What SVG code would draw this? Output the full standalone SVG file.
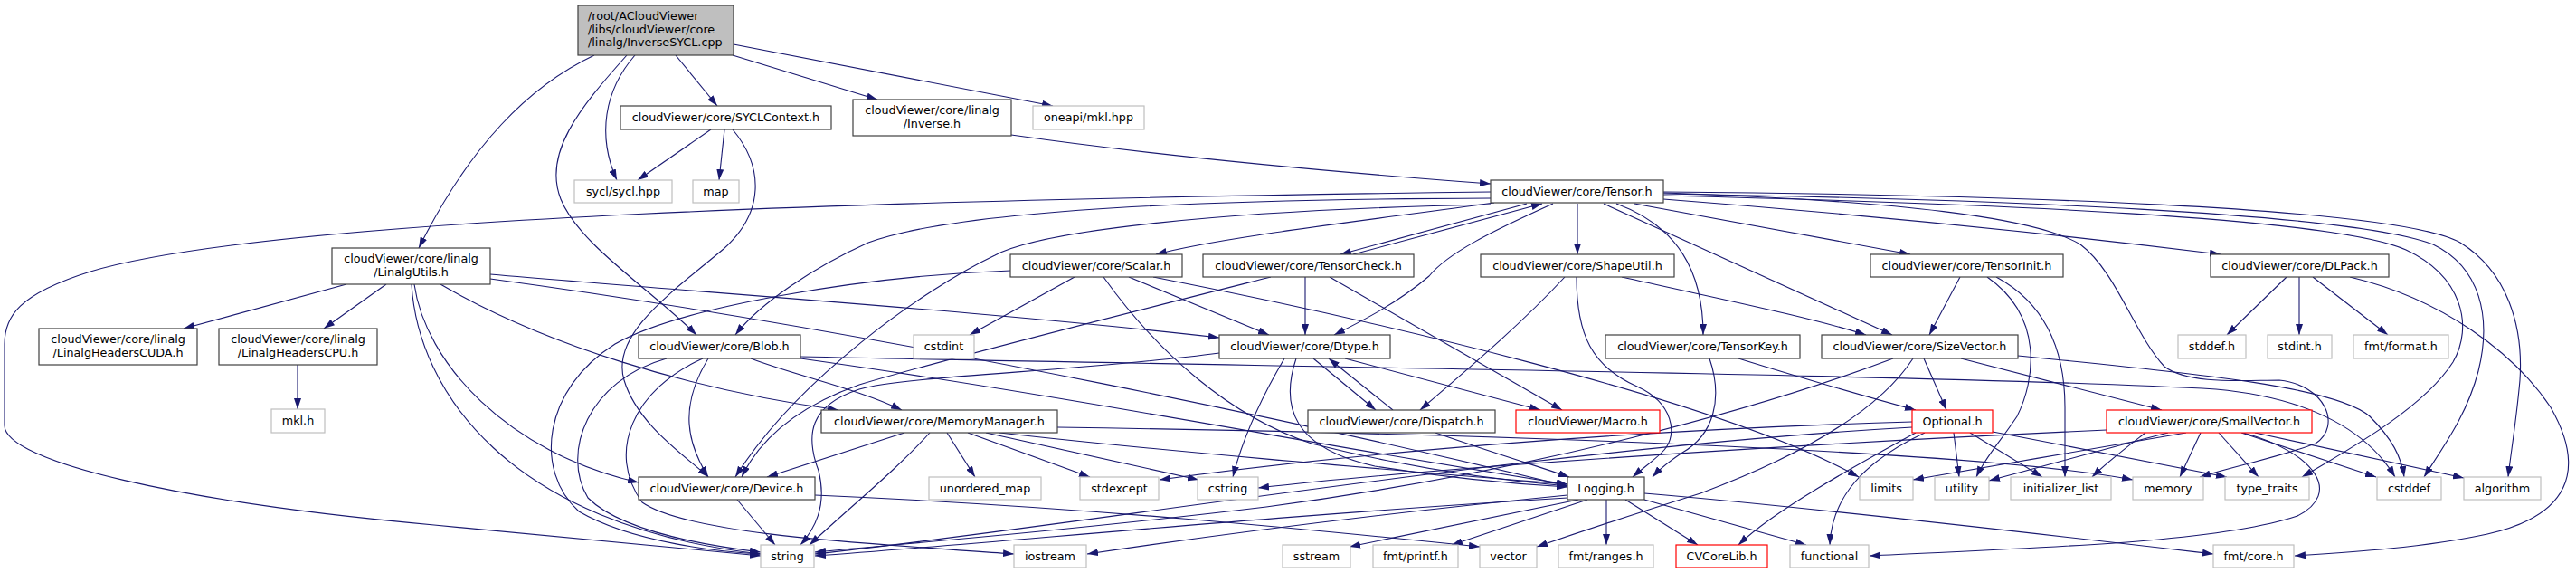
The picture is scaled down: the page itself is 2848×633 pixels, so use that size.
<svg xmlns="http://www.w3.org/2000/svg" width="2848" height="633" viewBox="0 0 2848 633">
<style>
rect{fill:#fff;stroke-width:1.2}
.n rect{stroke:#404040}
.g rect{stroke:#bfbfbf}
.r rect{stroke:#ff0000}
.root rect{fill:#bfbfbf;stroke:#404040}
text{font-family:"DejaVu Sans","Liberation Sans",sans-serif;font-size:12.75px;fill:#000;text-anchor:middle}
.root text{text-anchor:start}
#edges path{fill:none;stroke:#191970;stroke-width:1.1;marker-end:url(#a)}
</style>
<defs>
<marker id="a" markerWidth="12" markerHeight="8" refX="12" refY="4" orient="auto" markerUnits="userSpaceOnUse"><path d="M0,0 L12,4 L0,8 z" fill="#191970"/></marker>
</defs>
<rect x="0" y="0" width="2848" height="633" style="fill:#fff;stroke:none"/>
<g id="edges">
<path d="M657,61 C585,95 520,160 463,274"/>
<path d="M693,61 C640,120 600,170 620,220 C640,270 720,320 770,370"/>
<path d="M702,61 C668,100 660,150 682,199"/>
<path d="M747,61 L793,117"/>
<path d="M810,61 L970,110"/>
<path d="M811,49 L1164,117"/>
<path d="M786,143 L705,199"/>
<path d="M801,143 L795,199"/>
<path d="M810,143 C845,185 845,235 800,275 C740,325 675,370 690,420 C705,470 760,505 783,527"/>
<path d="M1118,149 C1300,175 1500,192 1648,203"/>
<path d="M383,314 L203,363"/>
<path d="M427,314 L358,363"/>
<path d="M329,403 L329,452"/>
<path d="M458,314 C470,400 560,500 706,533"/>
<path d="M455,314 C462,430 560,580 841,612"/>
<path d="M487,314 C600,380 760,430 927,453"/>
<path d="M542,303 C800,325 1100,345 1348,373"/>
<path d="M542,308 C1000,370 1500,480 1733,537"/>
<path d="M1648,212 C1000,220 300,240 100,300 C20,325 5,350 5,380 L5,470 C5,510 200,555 480,580 C650,597 780,608 841,614"/>
<path d="M1648,219 C1300,220 1050,235 960,268 C900,295 840,335 813,370"/>
<path d="M1648,226 C1350,232 1150,255 1100,282 C1020,320 880,420 813,527"/>
<path d="M1652,224 C1500,245 1350,262 1278,281"/>
<path d="M1688,225 L1482,281"/>
<path d="M1496,281 L1705,225"/>
<path d="M1717,225 C1650,255 1600,280 1580,305 C1545,335 1505,355 1475,370"/>
<path d="M1744,225 L1744,281"/>
<path d="M1773,225 L2092,370"/>
<path d="M1787,225 C1855,250 1883,300 1883,370"/>
<path d="M1807,225 L2112,281"/>
<path d="M1839,220 C2100,240 2300,262 2455,281"/>
<path d="M1839,213 C2100,222 2250,240 2300,270 C2340,300 2360,370 2393,405 C2420,425 2480,420 2520,420 C2570,425 2590,470 2560,490 C2520,505 2470,515 2432,527"/>
<path d="M1839,212 C2200,215 2650,228 2720,268 C2772,300 2790,360 2786,420 C2782,465 2776,500 2773,527"/>
<path d="M1839,214 C2200,220 2600,235 2690,270 C2742,295 2755,350 2740,410 C2727,460 2700,495 2680,527"/>
<path d="M1839,216 C2200,225 2580,240 2660,276 C2722,305 2735,360 2712,400 C2680,450 2600,495 2545,527"/>
<path d="M2528,306 L2462,370"/>
<path d="M2542,306 L2542,370"/>
<path d="M2557,306 L2640,370"/>
<path d="M2598,306 C2700,330 2780,390 2820,450 C2860,520 2840,570 2750,590 C2680,605 2600,610 2537,614"/>
<path d="M1188,306 L1072,370"/>
<path d="M1248,306 L1403,370"/>
<path d="M1220,306 C1280,390 1360,460 1450,490 C1550,515 1650,530 1733,537"/>
<path d="M1275,306 C1500,350 1900,440 2055,527"/>
<path d="M1117,299 C950,305 750,340 680,380 C600,430 590,520 640,565 C700,600 800,610 841,612"/>
<path d="M1443,306 L1443,370"/>
<path d="M1470,306 L1727,453"/>
<path d="M1405,306 C1250,345 1050,395 950,425 C880,450 840,485 820,527"/>
<path d="M1793,306 C1900,330 2000,350 2063,370"/>
<path d="M1730,306 C1680,360 1620,410 1570,453"/>
<path d="M1743,306 C1743,370 1760,405 1810,427 C1850,445 1855,480 1840,497 C1830,508 1815,518 1805,527"/>
<path d="M1890,396 C1905,440 1895,480 1860,500 C1845,510 1835,518 1827,527"/>
<path d="M1922,396 C2000,420 2070,440 2118,453"/>
<path d="M2127,396 L2152,453"/>
<path d="M2168,396 L2390,453"/>
<path d="M2231,393 C2400,410 2580,425 2620,460 C2645,485 2655,505 2658,527"/>
<path d="M2093,396 C1950,450 1700,520 1400,560 C1150,590 1000,600 901,610"/>
<path d="M2115,396 C2080,450 2000,500 1880,545 C1800,570 1740,590 1699,604"/>
<path d="M2167,306 L2133,370"/>
<path d="M2197,306 C2260,350 2250,420 2230,460 C2210,490 2195,505 2185,527"/>
<path d="M2207,306 C2270,340 2283,400 2283,450 L2283,527"/>
<path d="M2160,478 L2166,527"/>
<path d="M2178,478 L2258,527"/>
<path d="M2128,478 C2060,510 2025,550 2023,602"/>
<path d="M2118,478 C2050,515 1960,565 1922,602"/>
<path d="M2203,477 C2300,495 2400,515 2462,527"/>
<path d="M2114,466 C1800,475 1500,500 1282,530"/>
<path d="M2114,472 C1700,495 1200,580 901,612"/>
<path d="M1452,396 L1521,453"/>
<path d="M1540,453 L1469,396"/>
<path d="M1487,396 L1703,453"/>
<path d="M1420,396 C1400,430 1375,480 1363,527"/>
<path d="M1433,396 C1415,450 1430,495 1520,515 C1600,528 1680,535 1733,538"/>
<path d="M1348,390 C1200,410 1000,415 950,430 C895,448 890,480 905,520 C915,560 900,585 885,602"/>
<path d="M1587,478 C1650,500 1700,515 1735,527"/>
<path d="M1047,478 L1078,527"/>
<path d="M1070,478 L1205,527"/>
<path d="M1090,478 L1325,530"/>
<path d="M1000,478 L848,527"/>
<path d="M1028,478 C990,520 940,560 895,602"/>
<path d="M1169,472 C1700,480 2200,500 2358,530"/>
<path d="M1105,478 C1300,500 1550,520 1733,535"/>
<path d="M885,396 C1200,440 1500,500 1733,535"/>
<path d="M885,394 C1400,405 2200,415 2450,430 C2560,440 2620,480 2648,527"/>
<path d="M830,396 C880,415 950,430 997,453"/>
<path d="M783,396 C750,450 760,490 783,527"/>
<path d="M737,396 C650,420 620,500 650,550 C690,590 800,605 841,610"/>
<path d="M777,396 C700,430 670,500 710,555 C760,590 950,600 1121,612"/>
<path d="M815,552 L857,602"/>
<path d="M901,547 C1200,560 1450,585 1636,604"/>
<path d="M1745,552 L1492,604"/>
<path d="M1755,552 L1605,602"/>
<path d="M1776,552 L1776,602"/>
<path d="M1797,552 L1877,602"/>
<path d="M1818,552 L1997,602"/>
<path d="M1818,545 C2000,560 2300,595 2447,612"/>
<path d="M1733,550 C1400,570 1100,600 901,614"/>
<path d="M1733,547 C1550,565 1350,590 1202,612"/>
<path d="M2433,478 L2410,527"/>
<path d="M2453,478 L2497,527"/>
<path d="M2478,478 L2627,527"/>
<path d="M2493,478 L2724,528"/>
<path d="M2480,478 C2560,500 2590,545 2540,570 C2450,600 2250,605 2067,614"/>
<path d="M2417,478 C2350,490 2200,515 2115,530"/>
<path d="M2397,478 C2330,495 2260,515 2199,531"/>
<path d="M2372,478 C2350,495 2330,510 2313,527"/>
<path d="M2329,475 C2000,490 1600,515 1391,539"/>
</g>
<g id="root" class="root"><rect x="639" y="6" width="172" height="55"/><text x="650" y="22">/root/ACloudViewer</text><text x="650" y="37">/libs/cloudViewer/core</text><text x="650" y="51">/linalg/InverseSYCL.cpp</text></g>
<g id="syclcontext" class="n"><rect x="686" y="117" width="233" height="26"/><text x="802.5" y="134">cloudViewer/core/SYCLContext.h</text></g>
<g id="inverse" class="n"><rect x="943" y="110" width="175" height="40"/><text x="1030.5" y="126">cloudViewer/core/linalg</text><text x="1030.5" y="141">/Inverse.h</text></g>
<g id="oneapi" class="g"><rect x="1142" y="117" width="123" height="26"/><text x="1203.5" y="134">oneapi/mkl.hpp</text></g>
<g id="sycl" class="g"><rect x="635" y="199" width="108" height="25"/><text x="689" y="215.5">sycl/sycl.hpp</text></g>
<g id="map" class="g"><rect x="766" y="199" width="51" height="25"/><text x="791.5" y="215.5">map</text></g>
<g id="tensor" class="n"><rect x="1648" y="199" width="191" height="25"/><text x="1743.5" y="215.5">cloudViewer/core/Tensor.h</text></g>
<g id="linalgutils" class="n"><rect x="367" y="274" width="175" height="40"/><text x="454.5" y="290">cloudViewer/core/linalg</text><text x="454.5" y="305">/LinalgUtils.h</text></g>
<g id="scalar" class="n"><rect x="1117" y="281" width="190" height="25"/><text x="1212" y="297.5">cloudViewer/core/Scalar.h</text></g>
<g id="tensorcheck" class="n"><rect x="1330" y="281" width="233" height="25"/><text x="1446.5" y="297.5">cloudViewer/core/TensorCheck.h</text></g>
<g id="shapeutil" class="n"><rect x="1637" y="281" width="214" height="25"/><text x="1744" y="297.5">cloudViewer/core/ShapeUtil.h</text></g>
<g id="tensorinit" class="n"><rect x="2068" y="281" width="213" height="25"/><text x="2174.5" y="297.5">cloudViewer/core/TensorInit.h</text></g>
<g id="dlpack" class="n"><rect x="2444" y="281" width="197" height="25"/><text x="2542.5" y="297.5">cloudViewer/core/DLPack.h</text></g>
<g id="cuda" class="n"><rect x="43" y="363" width="175" height="40"/><text x="130.5" y="379">cloudViewer/core/linalg</text><text x="130.5" y="394">/LinalgHeadersCUDA.h</text></g>
<g id="cpu" class="n"><rect x="242" y="363" width="175" height="40"/><text x="329.5" y="379">cloudViewer/core/linalg</text><text x="329.5" y="394">/LinalgHeadersCPU.h</text></g>
<g id="blob" class="n"><rect x="706" y="370" width="179" height="26"/><text x="795.5" y="387">cloudViewer/core/Blob.h</text></g>
<g id="cstdint" class="g"><rect x="1010" y="370" width="67" height="26"/><text x="1043.5" y="387">cstdint</text></g>
<g id="dtype" class="n"><rect x="1348" y="370" width="189" height="26"/><text x="1442.5" y="387">cloudViewer/core/Dtype.h</text></g>
<g id="tensorkey" class="n"><rect x="1775" y="370" width="215" height="26"/><text x="1882.5" y="387">cloudViewer/core/TensorKey.h</text></g>
<g id="sizevector" class="n"><rect x="2014" y="370" width="217" height="26"/><text x="2122.5" y="387">cloudViewer/core/SizeVector.h</text></g>
<g id="stddef" class="g"><rect x="2408" y="370" width="75" height="26"/><text x="2445.5" y="387">stddef.h</text></g>
<g id="stdint" class="g"><rect x="2507" y="370" width="71" height="26"/><text x="2542.5" y="387">stdint.h</text></g>
<g id="fmtformat" class="g"><rect x="2602" y="370" width="105" height="26"/><text x="2654.5" y="387">fmt/format.h</text></g>
<g id="mkl" class="g"><rect x="300" y="452" width="59" height="26"/><text x="329.5" y="469">mkl.h</text></g>
<g id="memorymanager" class="n"><rect x="908" y="453" width="261" height="25"/><text x="1038.5" y="469.5">cloudViewer/core/MemoryManager.h</text></g>
<g id="dispatch" class="n"><rect x="1446" y="453" width="207" height="25"/><text x="1549.5" y="469.5">cloudViewer/core/Dispatch.h</text></g>
<g id="macro" class="r"><rect x="1676" y="453" width="159" height="25"/><text x="1755.5" y="469.5">cloudViewer/Macro.h</text></g>
<g id="optional" class="r"><rect x="2114" y="453" width="89" height="25"/><text x="2158.5" y="469.5">Optional.h</text></g>
<g id="smallvector" class="r"><rect x="2329" y="453" width="227" height="25"/><text x="2442.5" y="469.5">cloudViewer/core/SmallVector.h</text></g>
<g id="device" class="n"><rect x="706" y="527" width="195" height="25"/><text x="803.5" y="543.5">cloudViewer/core/Device.h</text></g>
<g id="unordered_map" class="g"><rect x="1027" y="527" width="124" height="25"/><text x="1089" y="543.5">unordered_map</text></g>
<g id="stdexcept" class="g"><rect x="1194" y="527" width="87" height="25"/><text x="1237.5" y="543.5">stdexcept</text></g>
<g id="cstring" class="g"><rect x="1324" y="527" width="67" height="25"/><text x="1357.5" y="543.5">cstring</text></g>
<g id="logging" class="n"><rect x="1733" y="527" width="85" height="25"/><text x="1775.5" y="543.5">Logging.h</text></g>
<g id="limits" class="g"><rect x="2056" y="527" width="59" height="25"/><text x="2085.5" y="543.5">limits</text></g>
<g id="utility" class="g"><rect x="2139" y="527" width="60" height="25"/><text x="2169" y="543.5">utility</text></g>
<g id="initializer_list" class="g"><rect x="2223" y="527" width="111" height="25"/><text x="2278.5" y="543.5">initializer_list</text></g>
<g id="memory" class="g"><rect x="2358" y="527" width="78" height="25"/><text x="2397" y="543.5">memory</text></g>
<g id="type_traits" class="g"><rect x="2460" y="527" width="93" height="25"/><text x="2506.5" y="543.5">type_traits</text></g>
<g id="cstddef" class="g"><rect x="2628" y="527" width="71" height="25"/><text x="2663.5" y="543.5">cstddef</text></g>
<g id="algorithm" class="g"><rect x="2724" y="527" width="85" height="25"/><text x="2766.5" y="543.5">algorithm</text></g>
<g id="string" class="g"><rect x="841" y="602" width="59" height="25"/><text x="870.5" y="618.5">string</text></g>
<g id="iostream" class="g"><rect x="1121" y="602" width="80" height="25"/><text x="1161" y="618.5">iostream</text></g>
<g id="sstream" class="g"><rect x="1418" y="602" width="75" height="25"/><text x="1455.5" y="618.5">sstream</text></g>
<g id="fmtprintf" class="g"><rect x="1518" y="602" width="94" height="25"/><text x="1565" y="618.5">fmt/printf.h</text></g>
<g id="vector" class="g"><rect x="1636" y="602" width="63" height="25"/><text x="1667.5" y="618.5">vector</text></g>
<g id="fmtranges" class="g"><rect x="1723" y="602" width="105" height="25"/><text x="1775.5" y="618.5">fmt/ranges.h</text></g>
<g id="cvcorelib" class="r"><rect x="1853" y="602" width="101" height="25"/><text x="1903.5" y="618.5">CVCoreLib.h</text></g>
<g id="functional" class="g"><rect x="1979" y="602" width="87" height="25"/><text x="2022.5" y="618.5">functional</text></g>
<g id="fmtcore" class="g"><rect x="2447" y="602" width="89" height="25"/><text x="2491.5" y="618.5">fmt/core.h</text></g>
</svg>
